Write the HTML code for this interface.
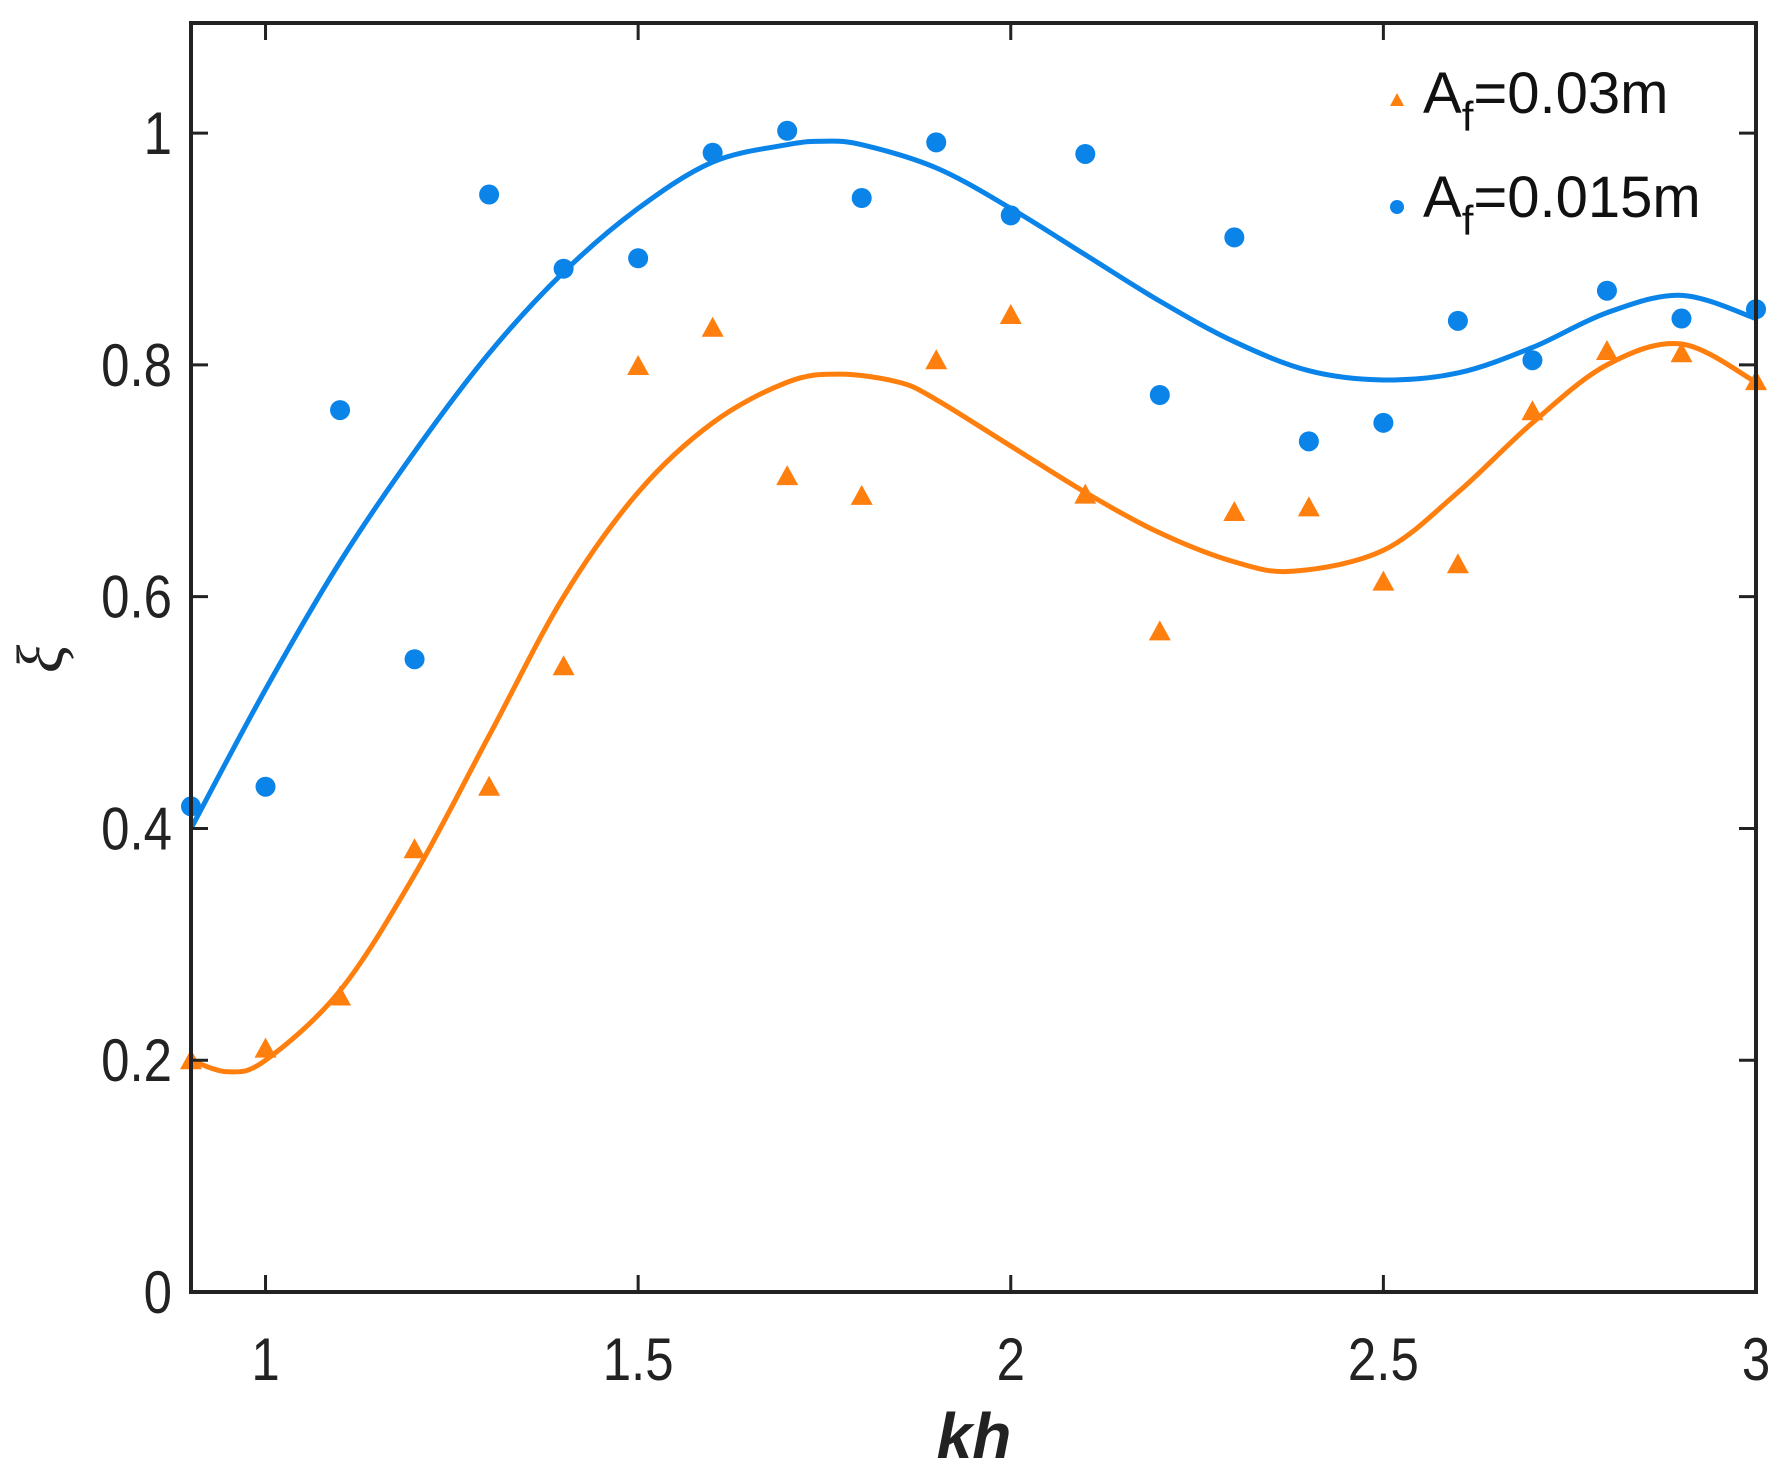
<!DOCTYPE html>
<html><head><meta charset="utf-8"><style>
html,body{margin:0;padding:0;background:#fff;}
svg{display:block;font-family:"Liberation Sans",Arial,sans-serif;}
</style></head><body>
<svg id="chart" width="1782" height="1481" viewBox="0 0 1782 1481" xmlns="http://www.w3.org/2000/svg">
<g id="plot"></g>
<g id="axes"></g>
<text x="974" y="1458" font-size="64" font-weight="bold" font-style="italic" text-anchor="middle" fill="#222">kh</text>
<text x="0" y="0" font-size="66" font-style="italic" text-anchor="middle" fill="#222" transform="translate(62,659) rotate(-90)" font-family="Liberation Serif, serif">ξ</text>
<g>
<polygon points="1397,93 1390,106 1404,106" fill="#ff7f0e"/>
<text x="1423" y="113" font-size="58" fill="#111">A<tspan font-size="42" dy="18">f</tspan><tspan dy="-18">=0.03m</tspan></text>
<circle cx="1397" cy="207" r="7" fill="#0a84e8"/>
<text x="1423" y="217" font-size="58" fill="#111">A<tspan font-size="42" dy="18">f</tspan><tspan dy="-18">=0.015m</tspan></text>
</g>
</svg>
<script>
const kh = [0.9,1.0,1.1,1.2,1.3,1.4,1.5,1.6,1.7,1.8,1.9,2.0,2.1,2.2,2.3,2.4,2.5,2.6,2.7,2.8,2.9,3.0];
const blueVals = [0.419,0.436,0.761,0.546,0.947,0.883,0.892,0.983,1.002,0.944,0.992,0.929,0.982,0.774,0.910,0.734,0.750,0.838,0.804,0.864,0.840,0.848];
const orangeVals = [0.200,0.210,0.255,0.382,0.436,0.540,0.799,0.832,0.704,0.687,0.804,0.843,0.688,0.570,0.673,0.677,0.613,0.628,0.760,0.812,0.810,0.786];
const blueFitX = [0.9,1.0,1.1,1.2,1.3,1.4,1.5,1.6,1.7,1.75,1.8,1.9,2.0,2.1,2.2,2.3,2.4,2.5,2.6,2.7,2.8,2.9,3.0];
const blueFitY = [0.40,0.52,0.63,0.725,0.81,0.88,0.935,0.975,0.99,0.993,0.99,0.97,0.935,0.895,0.855,0.82,0.795,0.787,0.793,0.815,0.845,0.86,0.84];
const orangeFitX = [0.9,0.95,1.0,1.1,1.2,1.3,1.4,1.5,1.6,1.7,1.77,1.85,1.9,2.0,2.1,2.2,2.3,2.38,2.5,2.6,2.7,2.8,2.9,3.0];
const orangeFitY = [0.20,0.19,0.20,0.26,0.36,0.48,0.60,0.69,0.75,0.785,0.792,0.785,0.77,0.73,0.69,0.655,0.63,0.622,0.64,0.69,0.75,0.80,0.818,0.785];
const xTicks = [1,1.5,2,2.5,3];
const xTickLabels = ["1","1.5","2","2.5","3"];
const yTicks = [0,0.2,0.4,0.6,0.8,1];
const yTickLabels = ["0","0.2","0.4","0.6","0.8","1"];

const L=191,R=1756,T=23,B=1292,XMIN=0.9,XMAX=3.0,YMAX=1.095;
const sx=v=>L+(v-XMIN)/(XMAX-XMIN)*(R-L);
const sy=v=>B-v/YMAX*(B-T);
const NS="http://www.w3.org/2000/svg";
const plot=document.getElementById('plot'), axes=document.getElementById('axes');
function mk(tag,attrs,parent){const e=document.createElementNS(NS,tag);for(const k in attrs)e.setAttribute(k,attrs[k]);parent.appendChild(e);return e;}

function smoothPath(xs,ys){
  const p=xs.map((x,i)=>[sx(x),sy(ys[i])]);
  let d=`M${p[0][0]},${p[0][1]}`;
  for(let i=0;i<p.length-1;i++){
    const p0=p[Math.max(0,i-1)],p1=p[i],p2=p[i+1],p3=p[Math.min(p.length-1,i+2)];
    const c1=[p1[0]+(p2[0]-p0[0])/6,p1[1]+(p2[1]-p0[1])/6];
    const c2=[p2[0]-(p3[0]-p1[0])/6,p2[1]-(p3[1]-p1[1])/6];
    d+=` C${c1[0]},${c1[1]} ${c2[0]},${c2[1]} ${p2[0]},${p2[1]}`;
  }
  return d;
}
const bl=mk('path',{d:smoothPath(blueFitX,blueFitY),fill:'none',stroke:'#0a84e8','stroke-width':5},plot);


const ol=mk('path',{d:smoothPath(orangeFitX,orangeFitY),fill:'none',stroke:'#ff7f0e','stroke-width':5},plot);



kh.forEach((x,i)=>{
  const c=mk('circle',{cx:sx(x),cy:sy(blueVals[i]),r:10,fill:'#0a84e8'},plot);
  
  
  const X=sx(x),Y=sy(orangeVals[i]);
  const t=mk('polygon',{points:`${X},${Y-11} ${X-11},${Y+9} ${X+11},${Y+9}`,fill:'#ff7f0e'},plot);
  
  
});

const frame=mk('rect',{x:L,y:T,width:R-L,height:B-T,fill:'none',stroke:'#222','stroke-width':4},axes);


xTicks.forEach((v,i)=>{
  const X=sx(v);
  mk('line',{x1:X,y1:B,x2:X,y2:B-17,stroke:'#222','stroke-width':3},axes);
  mk('line',{x1:X,y1:T,x2:X,y2:T+17,stroke:'#222','stroke-width':3},axes);
  const t=mk('text',{x:0,y:0,'font-size':60,'text-anchor':'middle',fill:'#222',transform:`translate(${X},1380) scale(0.85,1)`},axes);
  t.textContent=xTickLabels[i];
  
  
});
yTicks.forEach((v,i)=>{
  const Y=sy(v);
  mk('line',{x1:L,y1:Y,x2:L+17,y2:Y,stroke:'#222','stroke-width':3},axes);
  mk('line',{x1:R,y1:Y,x2:R-17,y2:Y,stroke:'#222','stroke-width':3},axes);
  const t=mk('text',{x:0,y:0,'font-size':60,'text-anchor':'end',fill:'#222',transform:`translate(172,${Y+21}) scale(0.85,1)`},axes);
  t.textContent=yTickLabels[i];
  
  
});
</script>
</body></html>
